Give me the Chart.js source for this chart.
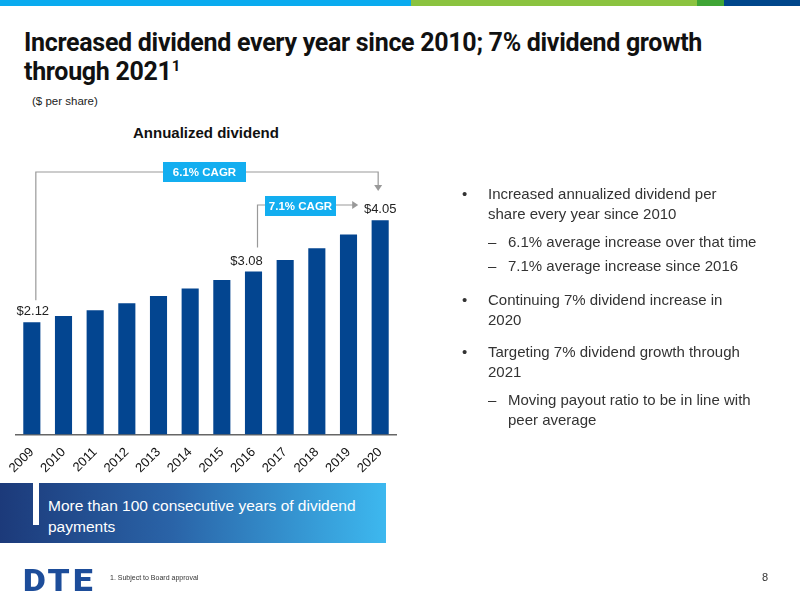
<!DOCTYPE html>
<html>
<head>
<meta charset="utf-8">
<script src="https://cdn.jsdelivr.net/npm/chart.js@4.4.0/dist/chart.umd.min.js"></script>
<style>
  body { margin: 0; width: 800px; height: 600px; position: relative; overflow: hidden; background: #fff; font-family: 'Liberation Sans', Arial, sans-serif; color: #222; }
  .abs { position: absolute; }
  #chartWrap { left: 0; top: 0; width: 800px; height: 600px; }
  .stripe { top: 0; height: 6px; }
  h1 { position: absolute; left: 24px; top: 28px; margin: 0; font-family: Roboto, sans-serif; font-weight: 700; font-size: 25px; line-height: 29px; color: #111; letter-spacing: -0.3px; }
  h1 sup { font-size: 15px; line-height: 0; }
  ul { margin: 0; padding: 0; list-style: none; }
  .bullets { left: 462px; top: 184px; width: 292px; font-size: 15px; line-height: 20px; color: #333; }
  .bullets li { position: relative; padding-left: 26px; margin-bottom: 12px; }
  .bullets li.b:before { content: '•'; position: absolute; left: 0; }
  .bullets li.d { padding-left: 46px; margin-top: -4px; margin-bottom: 8px; margin-right: -30px; }
  .bullets li.d:before { content: '–'; position: absolute; left: 26px; }
  #banner { left: 0; top: 483px; width: 386px; height: 60px; background: linear-gradient(90deg, #1c3a7a 0%, #2a64a8 45%, #3db8ef 100%); }
  #banner .bar { position: absolute; left: 33px; top: 0; width: 6px; height: 42px; background: #fff; }
  #banner .txt { position: absolute; left: 48px; top: 12px; color: #fff; font-size: 15.5px; line-height: 21px; }
</style>
</head>
<body>
<div class="abs stripe" style="left:0;width:411px;background:#0aabef"></div>
<div class="abs stripe" style="left:411px;width:286px;background:#8bc340"></div>
<div class="abs stripe" style="left:697px;width:27px;background:#3fa535"></div>
<div class="abs stripe" style="left:724px;width:76px;background:#00468b"></div>

<h1>Increased dividend every year since 2010; 7% dividend growth<br>through 2021<sup>1</sup></h1>
<div class="abs" style="left:32px;top:95px;font-size:11.5px;color:#222">($ per share)</div>
<div class="abs" style="left:133px;top:124px;font-size:15px;font-weight:700;color:#111">Annualized dividend</div>

<div class="abs" id="chartWrap"><canvas id="divChart"></canvas></div>

<ul class="abs bullets">
  <li class="b">Increased annualized dividend per share every year since 2010</li>
  <li class="d">6.1% average increase over that time</li>
  <li class="d">7.1% average increase since 2016</li>
  <li class="b" style="margin-top:14px">Continuing 7% dividend increase in 2020</li>
  <li class="b">Targeting 7% dividend growth through 2021</li>
  <li class="d">Moving payout ratio to be in line with peer average</li>
</ul>

<div class="abs" id="banner"><div class="bar"></div><div class="txt">More than 100 consecutive years of dividend<br>payments</div></div>

<div class="abs" style="left:23px;top:561px;font-family:Roboto,sans-serif;font-weight:900;font-size:32px;color:#1d4d9a;letter-spacing:3px;transform:scaleX(1.1);transform-origin:left">DTE</div>
<div class="abs" style="left:110px;top:574px;font-size:7px;color:#333">1. Subject to Board approval</div>
<div class="abs" style="left:762px;top:571px;font-size:11px;color:#333">8</div>

<script>
// Chart data
const years = ['2009', '2010', '2011', '2012', '2013', '2014', '2015', '2016', '2017', '2018', '2019', '2020'];
const dividends = [2.12, 2.24, 2.35, 2.48, 2.62, 2.76, 2.92, 3.08, 3.30, 3.52, 3.78, 4.05];
const labeledIdx = [0, 7, 11];
const cagrLabels = ['6.1% CAGR', '7.1% CAGR'];

// Value labels and CAGR brackets
const annotations = {
  id: 'annotations',
  afterDatasetsDraw(chart) {
    const ctx = chart.ctx;
    const bars = chart.getDatasetMeta(0).data;
    ctx.save();
    ctx.font = "13px 'Liberation Sans', Arial, sans-serif";
    ctx.fillStyle = '#222';
    ctx.textAlign = 'center';
    ctx.textBaseline = 'bottom';
    labeledIdx.forEach(i => {
      const b = bars[i];
      let x = b.x;
      if (i === 0) x = b.x + 1;
      if (i === 7) x = b.x - 7;
      ctx.fillText('$' + dividends[i].toFixed(2), x, b.y - 4);
    });

    ctx.strokeStyle = '#999';
    ctx.fillStyle = '#999';
    ctx.lineWidth = 1.2;
    const b0 = bars[0], b7 = bars[7], b11 = bars[11];
    // 6.1% bracket
    const y1 = 172;
    ctx.beginPath();
    ctx.moveTo(b0.x + 4, b0.y - 22); ctx.lineTo(b0.x + 4, y1); ctx.lineTo(b11.x - 2, y1); ctx.lineTo(b11.x - 2, y1 + 14);
    ctx.stroke();
    arrow(ctx, b11.x - 2, y1 + 19, 'down');
    // 7.1% bracket
    const y2 = 205;
    ctx.beginPath();
    ctx.moveTo(b7.x + 4, b7.y - 24); ctx.lineTo(b7.x + 4, y2); ctx.lineTo(b11.x - 27, y2);
    ctx.stroke();
    arrow(ctx, b11.x - 22, y2, 'right');

    box(ctx, cagrLabels[0], 163, 162, 83, 20);
    box(ctx, cagrLabels[1], 265, 196, 71, 20);
    ctx.restore();
  }
};

function arrow(ctx, x, y, dir) {
  ctx.beginPath();
  if (dir === 'down') { ctx.moveTo(x - 4, y - 6); ctx.lineTo(x + 4, y - 6); ctx.lineTo(x, y); }
  else { ctx.moveTo(x - 6, y - 4); ctx.lineTo(x - 6, y + 4); ctx.lineTo(x, y); }
  ctx.closePath();
  ctx.fill();
}

function box(ctx, text, x, y, w, h) {
  ctx.fillStyle = '#13aef0';
  ctx.fillRect(x, y, w, h);
  ctx.fillStyle = '#fff';
  ctx.font = "bold 11.5px 'Liberation Sans', Arial, sans-serif";
  ctx.textAlign = 'center';
  ctx.textBaseline = 'middle';
  ctx.fillText(text, x + w / 2, y + h / 2 + 1);
}

new Chart(document.getElementById('divChart'), {
  type: 'bar',
  data: {
    labels: years,
    datasets: [{
      data: dividends,
      backgroundColor: '#034590',
      barPercentage: 0.54,
      categoryPercentage: 1
    }]
  },
  options: {
    responsive: true,
    maintainAspectRatio: false,
    animation: false,
    layout: { padding: { left: 16, right: 404, top: 170, bottom: 122 } },
    plugins: { legend: { display: false }, tooltip: { enabled: false } },
    scales: {
      x: {
        grid: { display: false },
        border: { color: '#666', width: 1.5 },
        ticks: { color: '#111', font: { family: "'Liberation Sans', Arial, sans-serif", size: 13 }, maxRotation: 45, minRotation: 45, padding: 2 }
      },
      y: { display: false, min: 0, max: 5 }
    }
  },
  plugins: [annotations]
});
</script>
</body>
</html>
